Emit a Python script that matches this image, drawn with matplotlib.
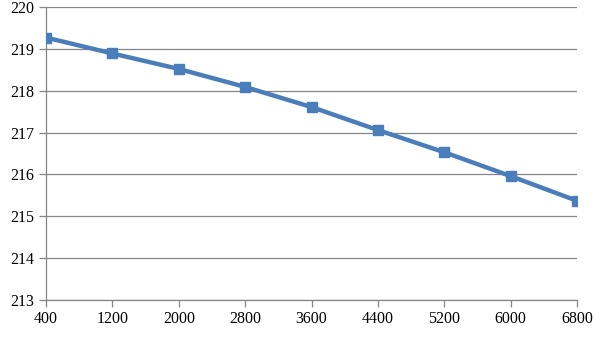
import matplotlib
matplotlib.use("Agg")
import matplotlib.pyplot as plt

x = [400, 1200, 2000, 2800, 3600, 4400, 5200, 6000, 6800]
y = [219.27, 218.89, 218.52, 218.09, 217.61, 217.06, 216.53, 215.96, 215.37]

plt.rcParams["font.family"] = ["Liberation Serif", "DejaVu Serif"]
plt.rcParams["font.size"] = 11.5

fig = plt.figure(figsize=(6.05, 3.4), dpi=100)
ax = fig.add_axes([46 / 605, 1 - 300 / 340, (577 - 46) / 605, 293 / 340])

ax.plot(x, y, color="#4a7ebb", lw=3.2, marker="s", ms=6.5, zorder=3)

ax.set_xlim(400, 6800)
ax.set_ylim(213, 220)
ax.set_xticks(range(400, 6801, 800))
ax.set_yticks(range(213, 221))
ax.yaxis.grid(True, color="#868686", lw=0.9)
ax.set_axisbelow(True)

for s in ["top", "right"]:
    ax.spines[s].set_visible(False)
for s in ["left", "bottom"]:
    ax.spines[s].set_color("#868686")
    ax.spines[s].set_linewidth(0.9)
ax.tick_params(colors="#868686", length=5, width=0.9, labelcolor="black")
ax.tick_params(axis="x", pad=3)

fig.savefig("out.png", dpi=100)
